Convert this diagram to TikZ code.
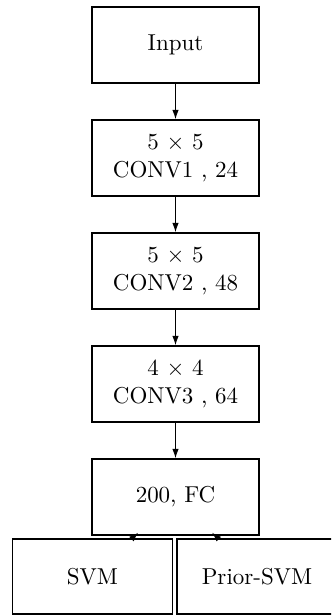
\documentclass[tikz,border=0pt]{standalone}
\usetikzlibrary{arrows.meta}
\begin{document}
\begin{tikzpicture}[x=0.435pt,y=-0.435pt,
  layerbox/.style={draw,line width=0.85pt,minimum width=72.6pt,minimum height=33pt,inner sep=0pt,align=center},
  clfbox/.style={draw,line width=0.85pt,minimum width=69.6pt,minimum height=32.4pt,inner sep=0pt,align=center},
  flow/.style={-{Latex[length=4pt,width=2.8pt]},line width=0.4pt}]
\clip (0,0) rectangle (331,615);
\node[layerbox] (in) at (175.5,45) {Input};
\node[layerbox] (c1) at (175.5,158) {5 $\times$ 5\\CONV1 , 24};
\node[layerbox] (c2) at (175.5,271) {5 $\times$ 5\\CONV2 , 48};
\node[layerbox] (c3) at (175.5,384) {4 $\times$ 4\\CONV3 , 64};
\node[layerbox] (fc) at (175.5,497) {200, FC};
\node[clfbox] (svm) at (92.5,576.3) {SVM};
\node[clfbox] (psvm) at (257,576.3) {Prior-SVM};
\draw[flow] (in) -- (c1);
\draw[flow] (c1) -- (c2);
\draw[flow] (c2) -- (c3);
\draw[flow] (c3) -- (fc);
\draw[flow,shorten >=-2pt] (svm) -- (fc);
\draw[flow,shorten >=-2pt] (psvm) -- (fc);
\end{tikzpicture}
\end{document}
